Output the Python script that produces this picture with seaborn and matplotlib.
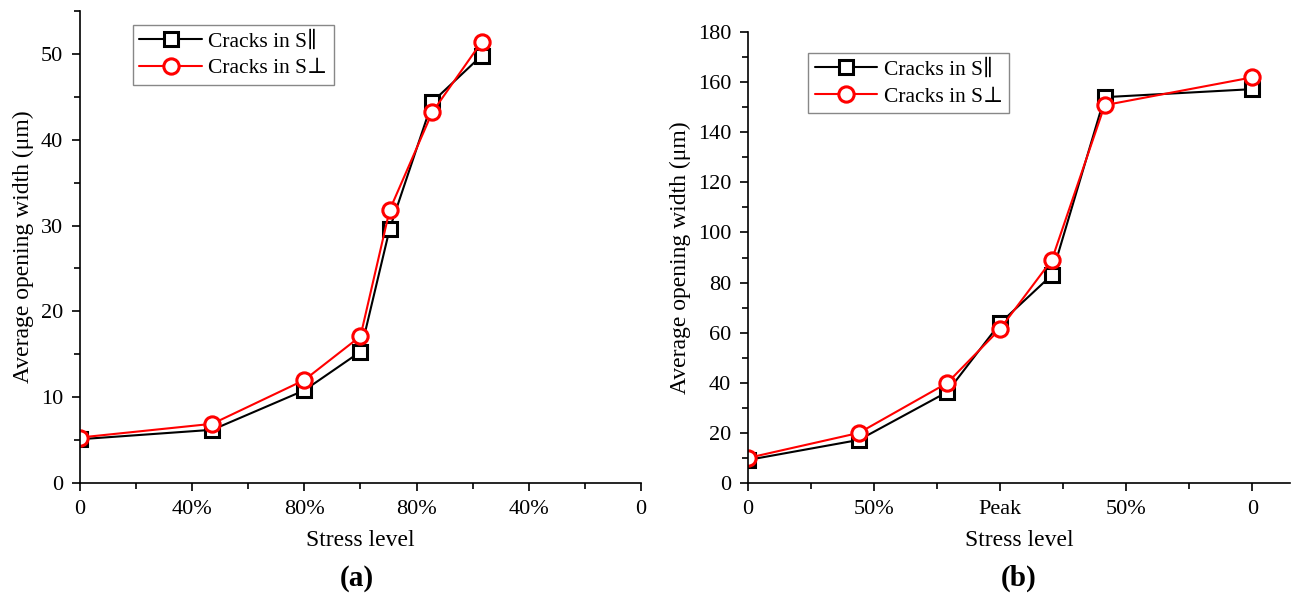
"""
plot.py

average crack opening width against stress level, two panels
"""

import matplotlib.pyplot as plt
import seaborn as sns
from matplotlib.ticker import MultipleLocator

# panel (a)
x_a = [0, 1.18, 2.0, 2.5, 2.76, 3.14, 3.58]
par_a = [5.1, 6.2, 10.8, 15.3, 29.6, 44.4, 49.8]
perp_a = [5.3, 6.9, 12.0, 17.1, 31.8, 43.2, 51.4]
ticks_a = ["0", "40%", "80%", "80%", "40%", "0"]

# panel (b)
x_b = [0, 0.88, 1.58, 2.0, 2.41, 2.83, 4.0]
par_b = [9.2, 17.2, 36.3, 63.8, 83.0, 154.0, 157.2]
perp_b = [10.0, 20.0, 39.9, 61.5, 89.0, 150.8, 161.9]
ticks_b = ["0", "50%", "Peak", "50%", "0"]

labels = ["Cracks in S\u2225", "Cracks in S\u22a5"]

sns.set_theme(style="ticks")
plt.rcParams["font.family"] = ["Liberation Serif", "DejaVu Serif"]
plt.rcParams["font.size"] = 16
for key in ("text.color", "axes.labelcolor", "xtick.color", "ytick.color"):
    plt.rcParams[key] = "black"

fig = plt.figure(figsize=(13.07, 5.93), dpi=100)
ax_a = fig.add_axes([0.0612, 0.1855, 0.4292, 0.796])
ax_b = fig.add_axes([0.5723, 0.1855, 0.4147, 0.7605])


def draw(ax, x, par, perp):
    sns.lineplot(x=x, y=par, ax=ax, color="black", linewidth=1.5,
                 marker="s", markersize=9.5, markerfacecolor="white",
                 markeredgecolor="black", markeredgewidth=2.2,
                 label=labels[0])
    sns.lineplot(x=x, y=perp, ax=ax, color="red", linewidth=1.5,
                 marker="o", markersize=11, markerfacecolor="white",
                 markeredgecolor="red", markeredgewidth=2.2,
                 label=labels[1])


draw(ax_a, x_a, par_a, perp_a)
draw(ax_b, x_b, par_b, perp_b)

ax_a.set_xlim(0, 5)
ax_a.set_ylim(0, 55)
ax_a.set_xticks(range(len(ticks_a)))
ax_a.set_xticklabels(ticks_a)
ax_a.yaxis.set_major_locator(MultipleLocator(10))
ax_a.yaxis.set_minor_locator(MultipleLocator(5))

ax_b.set_xlim(0, 4.3)
ax_b.set_ylim(0, 180)
ax_b.set_xticks(range(len(ticks_b)))
ax_b.set_xticklabels(ticks_b)
ax_b.yaxis.set_major_locator(MultipleLocator(20))
ax_b.yaxis.set_minor_locator(MultipleLocator(10))

legend_pos = {ax_a: (0.0945, 0.970), ax_b: (0.111, 0.953)}

for ax in (ax_a, ax_b):
    ax.xaxis.set_minor_locator(MultipleLocator(0.5))
    ax.spines["top"].set_visible(False)
    ax.spines["right"].set_visible(False)
    for side in ("left", "bottom"):
        ax.spines[side].set_linewidth(1.2)
        ax.spines[side].set_color("black")
    ax.tick_params(which="major", direction="out", length=6, width=1.2,
                   labelsize=16, colors="black", pad=6)
    ax.tick_params(which="minor", direction="out", length=4, width=1.2,
                   colors="black")
    ax.set_xlabel("Stress level", fontsize=17, labelpad=8, color="black")
    ax.set_ylabel("Average opening width (\u03bcm)", fontsize=17, labelpad=5,
                  color="black")
    leg = ax.legend(loc="upper left", bbox_to_anchor=legend_pos[ax],
                    borderaxespad=0, fontsize=15.5, handlelength=2.9,
                    handletextpad=0.3, labelspacing=0.3, borderpad=0.3,
                    fancybox=False, framealpha=1, edgecolor="#888888")
    leg.get_frame().set_linewidth(1.0)
    for t in leg.get_texts():
        t.set_color("black")

fig.text(0.273, 0.025, "(a)", ha="center", va="center",
         fontsize=21, fontweight="bold", color="black")
fig.text(0.779, 0.025, "(b)", ha="center", va="center",
         fontsize=21, fontweight="bold", color="black")

fig.savefig("out.png", dpi=100)
